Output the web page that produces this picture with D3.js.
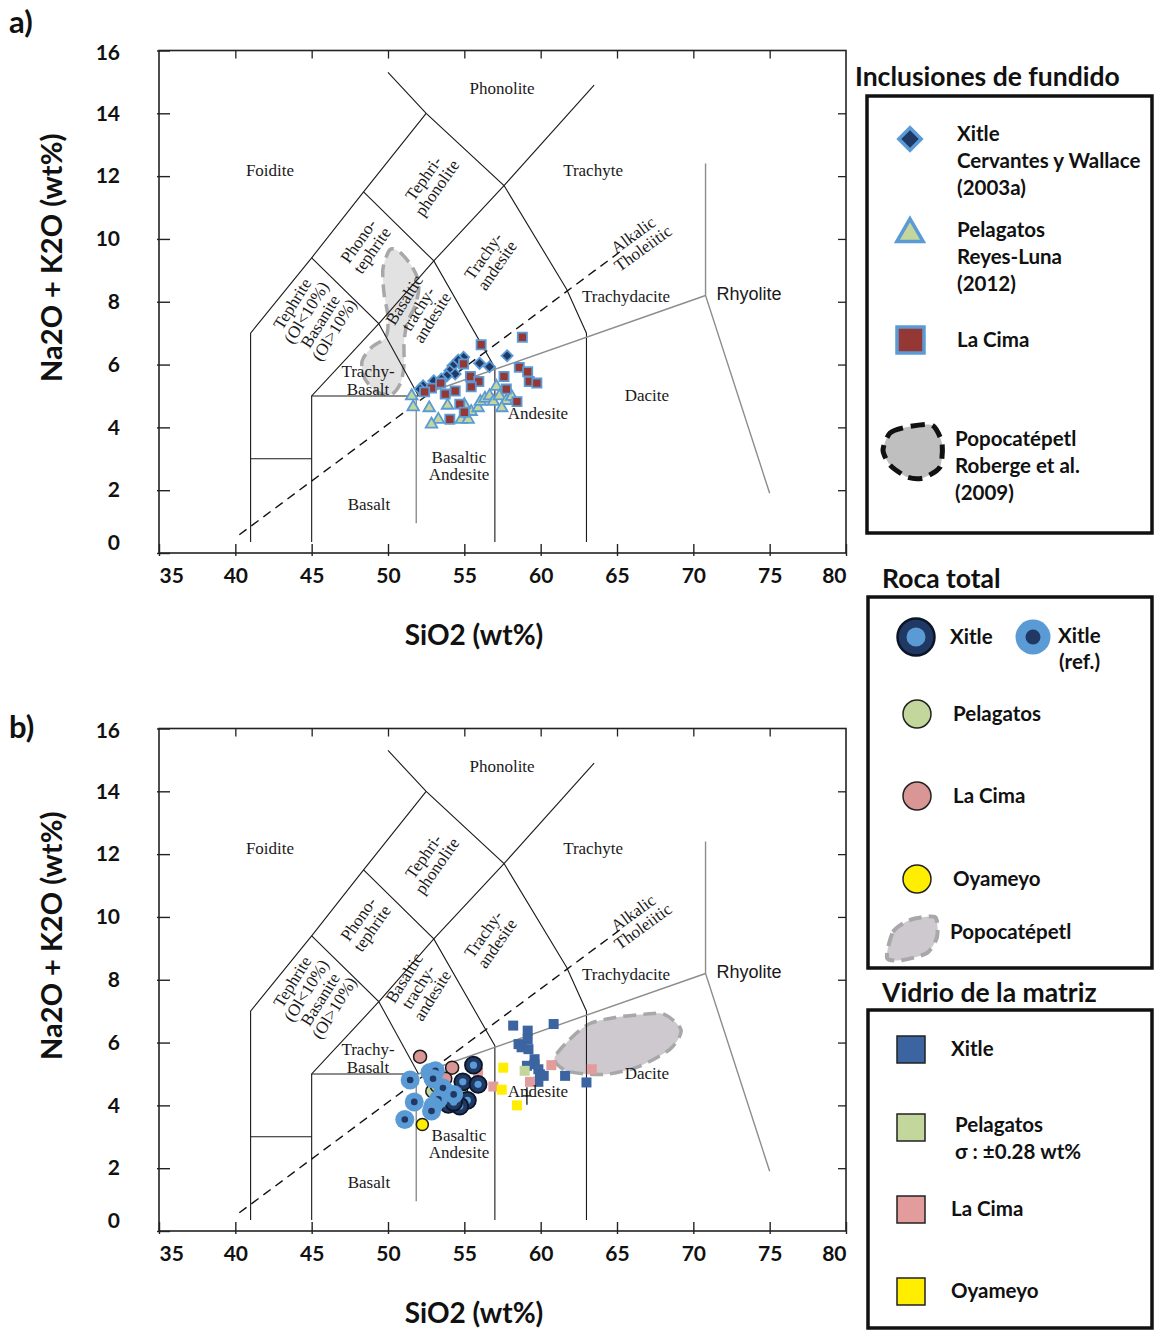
<!DOCTYPE html>
<html>
<head>
<meta charset="utf-8">
<script src="https://cdn.jsdelivr.net/npm/d3@7/dist/d3.min.js"></script>
<style>
  body { margin: 0; background: #fff; }
  svg { display: block; }
</style>
</head>
<body>
<svg id="fig" width="1155" height="1331"></svg>
<script>
// ---------- axis ticks ----------
const sio2Ticks = [35, 40, 45, 50, 55, 60, 65, 70, 75, 80];
const alkaliTicks = [0, 2, 4, 6, 8, 10, 12, 14, 16];

// ---------- TAS field boundaries (SiO2, Na2O+K2O) ----------
const blackBoundaries = [
  [[41, 0.35], [41, 7], [45, 9.4], [48.4, 11.5], [52.5, 14]],
  [[50.0, 15.3], [52.5, 14], [57.6, 11.7], [61.7, 8.4], [63, 7], [63, 0.35]],
  [[57.6, 11.7], [63.5, 14.9]],
  [[45, 9.4], [49.4, 7.3], [53, 9.3], [57.6, 11.7]],
  [[48.4, 11.5], [53, 9.3], [57, 5.9], [57, 0.35]],
  [[49.4, 7.3], [52, 5]],
  [[49.4, 7.3], [45, 5], [45, 0.35]],
  [[45, 5], [52, 5]],
  [[41, 3], [45, 3]]
];
const greyBoundaries = [
  [[51.85, 0.95], [51.85, 5]],
  [[52, 5], [70.8, 8.2]],
  [[70.8, 12.4], [70.8, 8.2], [75, 1.9]]
];
const alkalicTholeiiticLine = [[40.26, 0.58], [65.5, 9.7]];

// ---------- field names ----------
const fieldLabels = [
  { pos: [57.47, 14.82], lines: ["Phonolite"], rot: 0 },
  { pos: [42.27, 12.19], lines: ["Foidite"], rot: 0 },
  { pos: [63.43, 12.19], lines: ["Trachyte"], rot: 0 },
  { pos: [52.75, 11.78], lines: ["Tephri-", "phonolite"], rot: -55 },
  { pos: [48.49, 9.79], lines: ["Phono-", "tephrite"], rot: -55 },
  { pos: [56.68, 9.31], lines: ["Trachy-", "andesite"], rot: -55 },
  { pos: [66.37, 9.92], lines: ["Alkalic", "Tholeiitic"], rot: -36 },
  { pos: [65.59, 8.19], lines: ["Trachydacite"], rot: 0 },
  { pos: [73.65, 8.26], lines: ["Rhyolite"], rot: 0, sans: true },
  { pos: [45.09, 7.52], lines: ["Tephrite", "(Ol<10%)", "Basanite", "(Ol>10%)"], rot: -58 },
  { pos: [51.96, 7.78], lines: ["Basaltic", "trachy-", "andesite"], rot: -58 },
  { pos: [48.69, 5.5], lines: ["Trachy-", "Basalt"], rot: 0 },
  { pos: [66.96, 5.02], lines: ["Dacite"], rot: 0 },
  { pos: [59.82, 4.45], lines: ["Andesite"], rot: 0 },
  { pos: [54.65, 2.78], lines: ["Basaltic", "Andesite"], rot: 0 },
  { pos: [48.75, 1.57], lines: ["Basalt"], rot: 0 }
];

// ---------- Popocatépetl fields ----------
const popoMeltField = [
  [50.13, 9.66], [50.79, 9.57], [51.57, 9.12], [52.03, 8.58], [51.83, 7.94],
  [51.24, 7.30], [51.05, 6.66], [51.05, 6.02], [50.85, 5.44], [50.26, 5.06],
  [49.34, 5.12], [48.49, 5.54], [48.3, 6.11], [48.95, 6.56], [49.87, 6.88],
  [50.0, 7.52], [49.74, 8.26], [49.67, 9.06]
];
const popoRockField = [
  [60.9, 5.5], [61.9, 6.1], [63.2, 6.6], [64.9, 6.8], [66.8, 6.9], [68.1, 6.9],
  [69.2, 6.4], [68.5, 5.8], [66.5, 5.25], [64.5, 5.0], [62.9, 5.0], [61.6, 5.12]
];

// ---------- a) melt inclusions ----------
const meltXitle = [
  [57.8, 6.28], [56.0, 6.04], [56.65, 5.93], [54.95, 6.23], [54.6, 6.14],
  [54.25, 5.96], [54.05, 5.8], [54.4, 5.7], [53.85, 5.64], [53.5, 5.54],
  [53.0, 5.48], [52.3, 5.32], [52.1, 5.22]
];
const meltPelagatos = [
  [51.55, 5.0], [51.65, 4.65], [52.7, 4.62], [53.9, 4.7], [53.3, 4.25],
  [52.85, 4.1], [54.8, 4.25], [55.25, 4.25], [55.45, 4.5], [55.9, 4.62],
  [56.05, 4.82], [56.35, 4.92], [56.65, 5.0], [56.9, 4.82], [57.1, 5.3],
  [57.3, 5.0], [57.75, 4.85], [57.45, 4.62], [55.0, 4.72], [58.1, 4.98]
];
const meltLaCima = [
  [58.8, 6.87], [56.1, 6.63], [54.95, 6.02], [58.6, 5.91], [59.15, 5.77],
  [57.6, 5.62], [55.4, 5.62], [55.95, 5.46], [59.25, 5.46], [59.75, 5.41],
  [53.45, 5.41], [52.85, 5.25], [52.4, 5.13], [55.45, 5.29], [54.4, 5.16],
  [53.75, 5.06], [57.75, 5.22], [58.45, 4.82], [54.7, 4.74], [54.05, 4.26],
  [55.0, 4.48]
];

// ---------- b) whole rock ----------
const rockXitleRef = [
  [51.45, 4.81], [52.75, 5.05], [53.1, 5.1], [52.95, 4.85], [53.6, 4.55],
  [54.3, 4.35], [53.3, 4.19], [51.72, 4.11], [52.95, 3.98], [51.1, 3.55],
  [52.85, 3.82]
];
const rockXitle = [
  [55.6, 5.28], [54.9, 4.75], [55.9, 4.67], [55.2, 4.16], [53.95, 4.03],
  [54.7, 3.98], [54.3, 4.1]
];
const rockPelagatos = [[52.9, 4.45], [54.8, 4.42], [53.2, 4.62]];
const rockLaCima = [[52.1, 5.55], [54.2, 5.2], [53.75, 4.85]];
const rockOyameyo = [[52.25, 3.39]];

// ---------- b) matrix glass ----------
const glassXitle = [
  [58.2, 6.54], [60.85, 6.59], [59.15, 6.38], [59.15, 6.11], [58.55, 5.95],
  [58.75, 5.85], [59.2, 5.79], [59.6, 5.47], [59.6, 5.31], [59.1, 5.26],
  [59.85, 5.15], [59.95, 4.99], [60.2, 4.94], [59.85, 4.75], [61.6, 4.94],
  [63.0, 4.73]
];
const glassPelagatos = [[58.95, 5.1]];
const glassLaCima = [[55.9, 5.05], [56.9, 4.6], [59.3, 4.75], [60.7, 5.28], [63.35, 5.15]];
const glassOyameyo = [[57.55, 5.2], [57.45, 4.5], [58.45, 4.0]];
const pelagatosSigma = 0.28;
const sigmaCrossAt = [59.1, 4.3];

// ---------- styling ----------
const SANS = "Lato, 'Open Sans', sans-serif";
const SERIF = "'Liberation Serif', 'DejaVu Serif', serif";
const NARROW = "'Liberation Sans Narrow', 'Liberation Sans', Arial, sans-serif";
const C = {
  navy: "#1f3864", ltBlue: "#5b9bd5", green: "#c3d69b", red: "#953735",
  pink: "#d99694", pinkSq: "#e29c9c", yellow: "#ffee00", glassBlue: "#3b64a0",
  popoA: "#e2e2e2", popoB: "#cdc9ce", dashGrey: "#a8a8a8", line: "#1a1a1a", grey: "#8c8c8c"
};

const svg = d3.select("#fig");
const X_LEFT = 159, X_RIGHT = 846;

function drawPanel(top, bottom, tag, tagY) {
  const g = svg.append("g");
  const x = d3.scaleLinear().domain([35, 80]).range([X_LEFT, X_RIGHT]);
  const y = d3.scaleLinear().domain([0, 16]).range([bottom, top]);
  const line = d3.line().x(d => x(d[0])).y(d => y(d[1]));

  // frame
  g.append("rect").attr("x", X_LEFT).attr("y", top)
    .attr("width", X_RIGHT - X_LEFT).attr("height", bottom - top)
    .attr("fill", "none").attr("stroke", "#222").attr("stroke-width", 1.6);

  // axes
  const ax = g.append("g").attr("transform", `translate(0,${bottom})`)
    .call(d3.axisBottom(x).tickValues(sio2Ticks).tickSize(-9).tickPadding(15).tickFormat(d3.format("d")));
  ax.select(".domain").remove();
  ax.selectAll(".tick line").attr("y1", 3).attr("stroke", "#222").attr("stroke-width", 1.4);
  ax.selectAll(".tick text")
    .attr("font-family", SANS).attr("font-size", 21).attr("font-weight", 700).attr("fill", "#111")
    .attr("text-anchor", d => d === 35 ? "start" : (d === 80 ? "end" : "middle"));

  const ay = g.append("g").attr("transform", `translate(${X_LEFT},0)`)
    .call(d3.axisLeft(y).tickValues(alkaliTicks).tickSize(-11).tickPadding(39));
  ay.select(".domain").remove();
  ay.selectAll(".tick line").attr("x1", -2).attr("stroke", "#222").attr("stroke-width", 1.4);
  ay.selectAll(".tick text")
    .attr("font-family", SANS).attr("font-size", 21).attr("font-weight", 700).attr("fill", "#111")
    .attr("y", d => d === 0 ? -10 : (d === 16 ? 2 : 0));

  const at = g.append("g").attr("transform", `translate(0,${top})`)
    .call(d3.axisTop(x).tickValues(sio2Ticks.slice(1, -1)).tickSize(-8).tickFormat(""));
  at.select(".domain").remove();
  at.selectAll(".tick line").attr("stroke", "#222").attr("stroke-width", 1.3);

  const ar = g.append("g").attr("transform", `translate(${X_RIGHT},0)`)
    .call(d3.axisRight(y).tickValues(alkaliTicks.slice(1, -1)).tickSize(-8).tickFormat(""));
  ar.select(".domain").remove();
  ar.selectAll(".tick line").attr("stroke", "#222").attr("stroke-width", 1.3);

  // axis titles
  g.append("text").attr("x", 474).attr("y", bottom + 92)
    .attr("text-anchor", "middle").attr("font-family", SANS).attr("font-size", 28)
    .attr("font-weight", 700).attr("fill", "#111").text("SiO2 (wt%)");
  g.append("text").attr("transform", `translate(62,${(top + bottom) / 2 - 44}) rotate(-90)`)
    .attr("text-anchor", "middle").attr("font-family", SANS).attr("font-size", 29)
    .attr("font-weight", 700).attr("fill", "#111").text("Na2O + K2O (wt%)");
  g.append("text").attr("x", 9).attr("y", tagY)
    .attr("font-family", SANS).attr("font-size", 31).attr("font-weight", 700)
    .attr("fill", "#111").text(tag);

  return { g, x, y, line };
}

function drawField(p, pts, fill) {
  p.g.append("path")
    .attr("d", d3.line().x(d => p.x(d[0])).y(d => p.y(d[1])).curve(d3.curveCardinalClosed.tension(0.2))(pts))
    .attr("fill", fill).attr("stroke", C.dashGrey).attr("stroke-width", 3.5)
    .attr("stroke-dasharray", "13,7");
}

function drawBoundaries(p) {
  blackBoundaries.forEach(seg => p.g.append("path").attr("d", p.line(seg))
    .attr("fill", "none").attr("stroke", C.line).attr("stroke-width", 1.1));
  greyBoundaries.forEach(seg => p.g.append("path").attr("d", p.line(seg))
    .attr("fill", "none").attr("stroke", C.grey).attr("stroke-width", 1.4));
  p.g.append("path").attr("d", p.line(alkalicTholeiiticLine))
    .attr("fill", "none").attr("stroke", "#111").attr("stroke-width", 1.4)
    .attr("stroke-dasharray", "9,6");
}

function drawFieldLabels(p) {
  fieldLabels.forEach(l => {
    const t = p.g.append("text")
      .attr("transform", `translate(${p.x(l.pos[0])},${p.y(l.pos[1])}) rotate(${l.rot})`)
      .attr("text-anchor", "middle")
      .attr("font-family", l.sans ? NARROW : SERIF)
      .attr("font-size", l.sans ? 18 : 17).attr("fill", "#1a1a1a");
    const lh = l.rot === 0 ? 17.5 : 16.5;
    const off = -(l.lines.length - 1) * lh / 2;
    l.lines.forEach((s, i) => t.append("tspan").attr("x", 0)
      .attr("y", off + i * lh).attr("dy", "0.35em").text(s));
  });
}

// ---------- panel a ----------
const pa = drawPanel(50.5, 553, "a)", 33);
drawField(pa, popoMeltField, C.popoA);
drawBoundaries(pa);

pa.g.append("g").selectAll("path").data(meltXitle).join("path")
  .attr("transform", d => `translate(${pa.x(d[0])},${pa.y(d[1])}) rotate(45)`)
  .attr("d", d3.symbol(d3.symbolSquare, 62)())
  .attr("fill", C.navy).attr("stroke", C.ltBlue).attr("stroke-width", 1.8);
pa.g.append("g").selectAll("path").data(meltPelagatos).join("path")
  .attr("transform", d => `translate(${pa.x(d[0])},${pa.y(d[1])})`)
  .attr("d", d3.symbol(d3.symbolTriangle, 58)())
  .attr("fill", C.green).attr("stroke", C.ltBlue).attr("stroke-width", 1.8);
pa.g.append("g").selectAll("path").data(meltLaCima).join("path")
  .attr("transform", d => `translate(${pa.x(d[0])},${pa.y(d[1])})`)
  .attr("d", d3.symbol(d3.symbolSquare, 84)())
  .attr("fill", C.red).attr("stroke", C.ltBlue).attr("stroke-width", 1.8);
drawFieldLabels(pa);

// ---------- panel b ----------
const pb = drawPanel(728.5, 1231, "b)", 738);
drawField(pb, popoRockField, C.popoB);
drawBoundaries(pb);

function squares(p, data, fill, size) {
  p.g.append("g").selectAll("path").data(data).join("path")
    .attr("transform", d => `translate(${p.x(d[0])},${p.y(d[1])})`)
    .attr("d", d3.symbol(d3.symbolSquare, size)())
    .attr("fill", fill);
}
squares(pb, glassXitle, C.glassBlue, 100);
squares(pb, glassPelagatos, C.green, 100);
squares(pb, glassLaCima, C.pinkSq, 100);
squares(pb, glassOyameyo, C.yellow, 100);

// Pelagatos glass 1-sigma cross
const sx = pb.x(sigmaCrossAt[0]), sy = pb.y(sigmaCrossAt[1]);
pb.g.append("path")
  .attr("d", `M${pb.x(sigmaCrossAt[0] - pelagatosSigma)},${sy}H${pb.x(sigmaCrossAt[0] + pelagatosSigma)}` +
             `M${sx},${pb.y(sigmaCrossAt[1] + pelagatosSigma)}V${pb.y(sigmaCrossAt[1] - pelagatosSigma)}`)
  .attr("stroke", "#111").attr("stroke-width", 1.3);

function circles(p, data, fill, r) {
  p.g.append("g").selectAll("circle").data(data).join("circle")
    .attr("cx", d => p.x(d[0])).attr("cy", d => p.y(d[1])).attr("r", r)
    .attr("fill", fill).attr("stroke", "#1a1a1a").attr("stroke-width", 1.5);
}
circles(pb, rockLaCima, C.pink, 6.5);
circles(pb, rockPelagatos, C.green, 6.5);
circles(pb, rockOyameyo, C.yellow, 6);

const xg = pb.g.append("g").selectAll("g").data(rockXitle).join("g")
  .attr("transform", d => `translate(${pb.x(d[0])},${pb.y(d[1])})`);
xg.append("circle").attr("r", 8.5).attr("fill", C.navy).attr("stroke", "#0b1526").attr("stroke-width", 1.8);
xg.append("circle").attr("r", 3.6).attr("fill", C.ltBlue);

const rg = pb.g.append("g").selectAll("g").data(rockXitleRef).join("g")
  .attr("transform", d => `translate(${pb.x(d[0])},${pb.y(d[1])})`);
rg.append("circle").attr("r", 9.5).attr("fill", C.ltBlue);
rg.append("circle").attr("r", 3.3).attr("fill", C.navy);

drawFieldLabels(pb);

// ---------- legends ----------
const L = svg.append("g").attr("font-family", SANS).attr("font-weight", 700).attr("fill", "#111");
function legendText(x, y, lines, size = 20.5, lh = 27) {
  lines.forEach((s, i) => L.append("text").attr("x", x).attr("y", y + i * lh)
    .attr("dy", "0.35em").attr("font-size", size).text(s));
}
function legendBox(x0, y0, x1, y1) {
  L.append("rect").attr("x", x0).attr("y", y0).attr("width", x1 - x0).attr("height", y1 - y0)
    .attr("fill", "none").attr("stroke", "#111").attr("stroke-width", 3.5);
}
const blobA = [[-29, -2], [-22, -19], [-5, -25], [20, -27], [30, -9], [28, 15], [11, 26], [-5, 25], [-22, 13]];
const blobB = [[-25, 20], [-19, -6], [-2, -18], [23, -21], [25, -1], [15, 15], [-9, 22]];
function blob(cx, cy, pts, fill, stroke, sw, dash) {
  L.append("path").attr("transform", `translate(${cx},${cy})`)
    .attr("d", d3.line().curve(d3.curveCardinalClosed.tension(0.3))(pts))
    .attr("fill", fill).attr("stroke", stroke).attr("stroke-width", sw).attr("stroke-dasharray", dash);
}

// Inclusiones de fundido
legendText(855, 77, ["Inclusiones de fundido"], 26.5);
legendBox(867, 96, 1152, 533);
L.append("path").attr("transform", "translate(910,139) rotate(45)")
  .attr("d", d3.symbol(d3.symbolSquare, 250)())
  .attr("fill", C.navy).attr("stroke", C.ltBlue).attr("stroke-width", 3.5);
legendText(957, 134, ["Xitle", "Cervantes y Wallace", "(2003a)"]);
L.append("path").attr("transform", "translate(910,234)")
  .attr("d", d3.symbol(d3.symbolTriangle, 300)())
  .attr("fill", C.green).attr("stroke", C.ltBlue).attr("stroke-width", 3.5);
legendText(957, 230, ["Pelagatos", "Reyes-Luna", " (2012)"]);
L.append("rect").attr("x", 897).attr("y", 327).attr("width", 27).attr("height", 26)
  .attr("fill", C.red).attr("stroke", C.ltBlue).attr("stroke-width", 3.5);
legendText(957, 340, ["La Cima"]);
blob(912, 452, blobA, "#bfbfbf", "#111", 5, "14,8");
legendText(955, 439, ["Popocatépetl", "Roberge et al.", "(2009)"]);

// Roca total
legendText(882, 579, ["Roca total"], 26.5);
legendBox(868, 597, 1152, 968);
L.append("circle").attr("cx", 916).attr("cy", 637).attr("r", 18.5)
  .attr("fill", C.navy).attr("stroke", "#0b1526").attr("stroke-width", 2.5);
L.append("circle").attr("cx", 916).attr("cy", 637).attr("r", 9.5).attr("fill", C.ltBlue);
legendText(950, 637, ["Xitle"]);
L.append("circle").attr("cx", 1033).attr("cy", 637).attr("r", 17.5).attr("fill", C.ltBlue);
L.append("circle").attr("cx", 1033).attr("cy", 637).attr("r", 7.5).attr("fill", C.navy);
legendText(1058, 636, ["Xitle"]);
legendText(1059, 662, ["(ref.)"]);
[[714, C.green, "Pelagatos"], [796, C.pink, "La Cima"], [879, C.yellow, "Oyameyo"]].forEach(([cy, f, s]) => {
  L.append("circle").attr("cx", 917).attr("cy", cy).attr("r", 14)
    .attr("fill", f).attr("stroke", "#222").attr("stroke-width", 1.5);
  legendText(953, cy, [s]);
});
blob(912, 938, blobB, C.popoB, C.dashGrey, 4, "13,7");
legendText(950, 932, ["Popocatépetl"]);

// Vidrio de la matriz
legendText(882, 993, ["Vidrio de la matriz"], 26.5);
legendBox(868, 1010, 1152, 1328);
[[1049, C.glassBlue, ["Xitle"]], [1127, C.green, ["Pelagatos", "σ : ±0.28 wt%"]],
 [1209, C.pinkSq, ["La Cima"]], [1291, C.yellow, ["Oyameyo"]]].forEach(([cy, f, s]) => {
  L.append("rect").attr("x", 897).attr("y", cy - 13).attr("width", 28).attr("height", 27)
    .attr("fill", f).attr("stroke", "#222").attr("stroke-width", 1.5);
  legendText(s.length > 1 ? 955 : 951, s.length > 1 ? cy - 2 : cy, s);
});
</script>
</body>
</html>
